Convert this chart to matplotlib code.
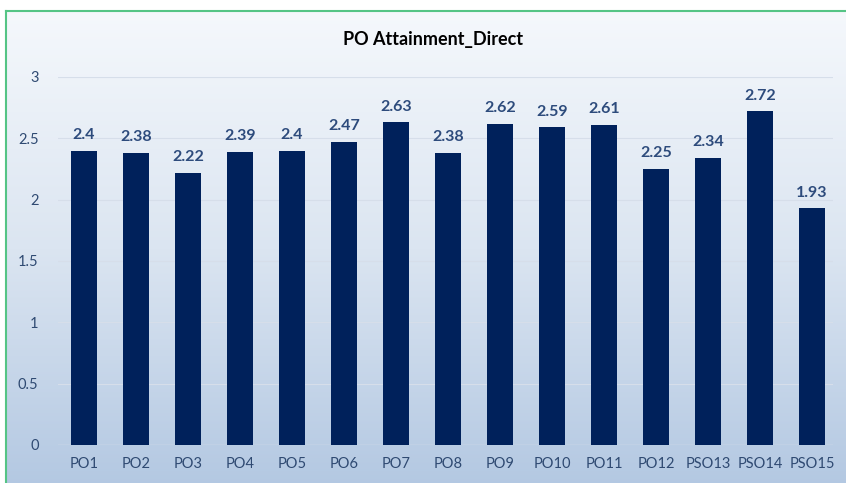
import numpy as np
import matplotlib
matplotlib.use("Agg")
import matplotlib.pyplot as plt
from matplotlib.colors import LinearSegmentedColormap
from matplotlib import font_manager

categories = ["PO1", "PO2", "PO3", "PO4", "PO5", "PO6", "PO7", "PO8", "PO9", "PO10",
              "PO11", "PO12", "PSO13", "PSO14", "PSO15"]
values = [2.4, 2.38, 2.22, 2.39, 2.4, 2.47, 2.63, 2.38, 2.62, 2.59, 2.61, 2.25, 2.34, 2.72, 1.93]
value_labels = ["2.4", "2.38", "2.22", "2.39", "2.4", "2.47", "2.63", "2.38", "2.62", "2.59",
                "2.61", "2.25", "2.34", "2.72", "1.93"]
yticks = [0, 0.5, 1, 1.5, 2, 2.5, 3]
ytick_labels = ["0", "0.5", "1", "1.5", "2", "2.5", "3"]

names = {f.name for f in font_manager.fontManager.ttflist}
font = "Liberation Sans Narrow" if "Liberation Sans Narrow" in names else "Lato"
narrow = font != "Lato"

W, H = 846, 483
fig = plt.figure(figsize=(W / 100, H / 100), dpi=100)
fig.patch.set_facecolor("white")

bg = fig.add_axes([0, 0, 1, 1], zorder=0)
bg.set_xlim(0, W)
bg.set_ylim(H, 0)
bg.axis("off")
cmap = LinearSegmentedColormap.from_list("g", ["#f5f8fc", "#dbe5f1", "#b3c8e2"])
grad = np.linspace(0, 1, 256).reshape(-1, 1)
bg.imshow(grad, cmap=cmap, extent=[6, W + 5, H + 5, 11], aspect="auto", zorder=0)
bg.plot([5.5, 5.5], [H + 5, 10.5], color="#55c485", lw=1.5, zorder=2)
bg.plot([5.5, W + 5], [10.5, 10.5], color="#55c485", lw=1.5, zorder=2)

lab_size = 12.5 if narrow else 11.5
tick_size = 11.5 if narrow else 10.5
title_size = 14 if narrow else 13

ax = fig.add_axes([58 / W, 38 / H, (833 - 58) / W, (445 - 77) / H], zorder=1)
ax.patch.set_alpha(0)
x = np.arange(len(categories))
ax.bar(x, values, width=0.5, color="#00215b", zorder=3)
for xi, v, lab in zip(x, values, value_labels):
    ax.text(xi, v + 0.07, lab, ha="center", va="bottom", fontsize=lab_size,
            fontweight="bold", color="#2d4b7c", family=font)

ax.set_xlim(-0.5, 14.4)
ax.set_ylim(0, 3)
ax.set_yticks(yticks)
ax.set_yticklabels(ytick_labels)
ax.set_xticks(x)
ax.set_xticklabels(categories)
for s in ax.spines.values():
    s.set_visible(False)
ax.axhline(0, color="#d6deea", lw=1, zorder=2)
ax.grid(axis="y", color="#d6deea", lw=0.8, zorder=1)
ax.tick_params(axis="both", length=0, labelsize=tick_size, labelcolor="#2f4a72")
ax.tick_params(axis="y", pad=14)
ax.tick_params(axis="x", pad=9)
for t in ax.get_xticklabels() + ax.get_yticklabels():
    t.set_family(font)

fig.text(433 / W, 1 - 40 / H, "PO Attainment_Direct", ha="center", va="center",
         fontsize=title_size, fontweight="bold", color="black", family=font)

fig.savefig("out.png", dpi=100)
